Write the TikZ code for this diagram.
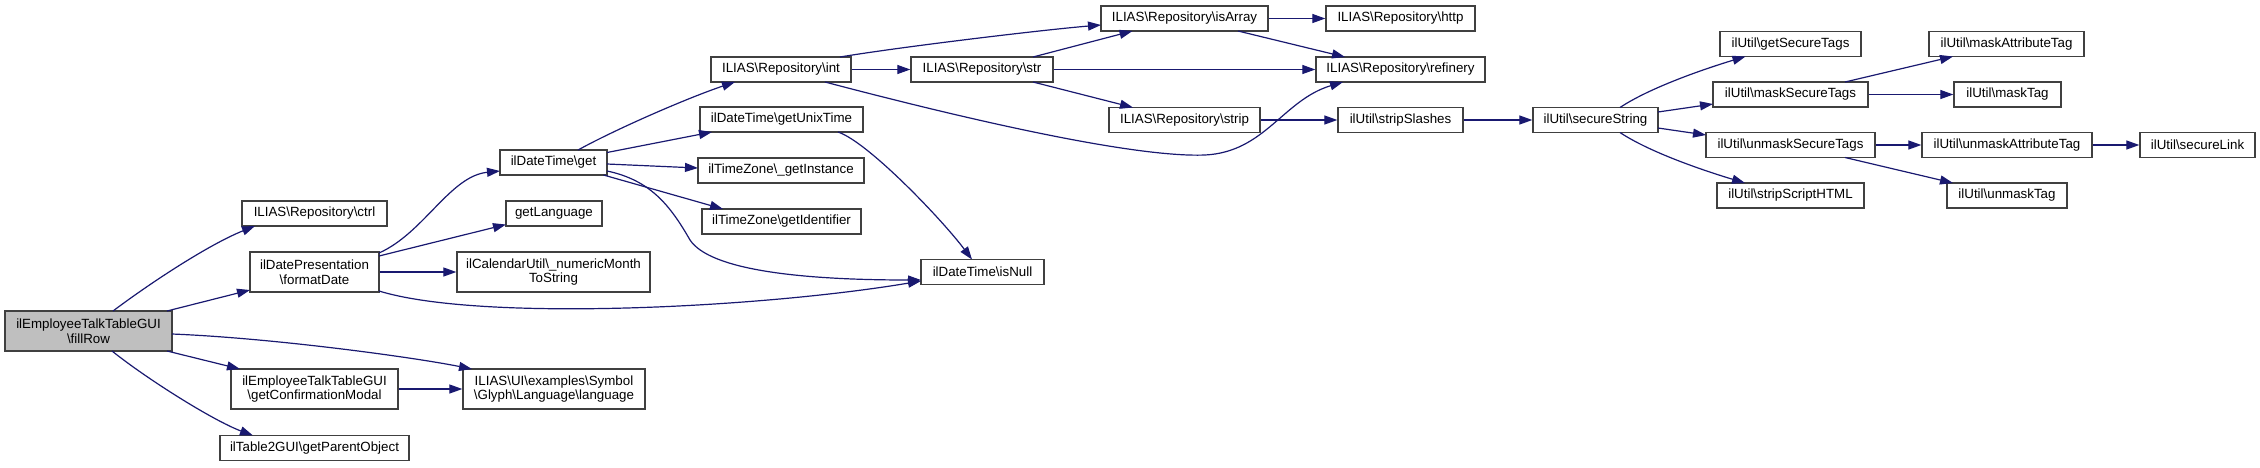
\documentclass[tikz,border=0pt]{standalone}
\usepackage{fontspec}
\setmainfont{Liberation Sans}
\usetikzlibrary{arrows.meta,calc}
\definecolor{edgec}{HTML}{191970}
\definecolor{boxc}{HTML}{404040}
\definecolor{fillc}{HTML}{BFBFBF}
\newcommand{\BSx}{\textbackslash}
\tikzset{
  box/.style={draw=boxc, line width=1.3pt, fill=white, inner sep=0pt, align=center,
    font=\fontsize{13.33}{14.5}\selectfont, text=black, minimum height=25pt},
  edge/.style={draw=edgec, line width=1.2pt, -{Triangle[length=13pt,width=9pt]}}
}
\begin{document}
\begin{tikzpicture}[x=1pt,y=-1pt]
\useasboundingbox (0,0) rectangle (2260,467);
% nodes
\node[box,fill=fillc,minimum width=167pt,minimum height=40pt] (fillRow) at (88.5,331) {ilEmployeeTalkTableGUI\\\BSx fillRow};
\node[box,minimum width=145pt] (ctrl) at (314.5,213.5) {ILIAS\BSx Repository\BSx ctrl};
\node[box,minimum width=129pt,minimum height=40pt] (fmt) at (314.5,272) {ilDatePresentation\\\BSx formatDate};
\node[box,minimum width=167pt,minimum height=40pt] (conf) at (314.5,389) {ilEmployeeTalkTableGUI\\\BSx getConfirmationModal};
\node[box,minimum width=189pt] (parent) at (314.5,448) {ilTable2GUI\BSx getParentObject};
\node[box,minimum width=107pt] (get) at (553.5,162.5) {ilDateTime\BSx get};
\node[box,minimum width=96pt] (lang) at (554,213.5) {getLanguage};
\node[box,minimum width=193pt,minimum height=40pt] (month) at (553.5,272) {ilCalendarUtil\BSx\_numericMonth\\ToString};
\node[box,minimum width=182pt,minimum height=40pt] (glyph) at (554,389) {ILIAS\BSx UI\BSx examples\BSx Symbol\\\BSx Glyph\BSx Language\BSx language};
\node[box,minimum width=140pt] (int) at (781,69.5) {ILIAS\BSx Repository\BSx int};
\node[box,minimum width=163pt] (unix) at (781.5,119.5) {ilDateTime\BSx getUnixTime};
\node[box,minimum width=166pt] (inst) at (781,170.5) {ilTimeZone\BSx\_getInstance};
\node[box,minimum width=159pt] (ident) at (781.5,221.5) {ilTimeZone\BSx getIdentifier};
\node[box,minimum width=123pt] (isnull) at (982.5,272) {ilDateTime\BSx isNull};
\node[box,minimum width=167pt] (isarr) at (1184.5,18.5) {ILIAS\BSx Repository\BSx isArray};
\node[box,minimum width=142pt] (str) at (982,69.5) {ILIAS\BSx Repository\BSx str};
\node[box,minimum width=151pt] (strip) at (1184.5,120) {ILIAS\BSx Repository\BSx strip};
\node[box,minimum width=149pt] (http) at (1400.5,18.5) {ILIAS\BSx Repository\BSx http};
\node[box,minimum width=169pt] (ref) at (1400.5,69.5) {ILIAS\BSx Repository\BSx refinery};
\node[box,minimum width=125pt] (slash) at (1400.5,120) {ilUtil\BSx stripSlashes};
\node[box,minimum width=125pt] (secs) at (1595.5,120) {ilUtil\BSx secureString};
\node[box,minimum width=141pt] (gst) at (1790.5,44) {ilUtil\BSx getSecureTags};
\node[box,minimum width=155pt] (mst) at (1790.5,94.5) {ilUtil\BSx maskSecureTags};
\node[box,minimum width=169pt] (umst) at (1790.5,145) {ilUtil\BSx unmaskSecureTags};
\node[box,minimum width=147pt] (ssh) at (1790.5,195.5) {ilUtil\BSx stripScriptHTML};
\node[box,minimum width=155pt] (mat) at (2006.5,44) {ilUtil\BSx maskAttributeTag};
\node[box,minimum width=107pt] (mtag) at (2007.5,94.5) {ilUtil\BSx maskTag};
\node[box,minimum width=170pt] (umat) at (2007,145) {ilUtil\BSx unmaskAttributeTag};
\node[box,minimum width=115pt] (slink) at (2197.5,145) {ilUtil\BSx secureLink};
\node[box,minimum width=120pt] (utag) at (2007,195.5) {ilUtil\BSx unmaskTag};
% edges
\draw[edge] ($(fillRow.center)+(24.5,-20)$) .. controls +(40,-30) and +(-45,18) .. ($(ctrl.center)+(-59.5,12.5)$);
\draw[edge] ($(fillRow.center)+(78.5,-20)$) -- ($(fmt.center)+(-64.5,18)$);
\draw[edge] ($(fillRow.center)+(83.5,3)$) .. controls +(100,4) and +(-60,-12) .. ($(glyph.center)+(-82,-20)$);
\draw[edge] ($(fillRow.center)+(78.5,20)$) -- ($(conf.center)+(-74.5,-20)$);
\draw[edge] ($(fillRow.center)+(23.5,20)$) .. controls +(35,28) and +(-40,-15) .. ($(parent.center)+(-61.5,-12.5)$);
\draw[edge] ($(fmt.center)+(64.5,-19)$) .. controls +(45,-20) and +(-50,5) .. ($(get.center)+(-53.5,8.5)$);
\draw[edge] ($(fmt.center)+(64.5,-16)$) -- ($(lang.center)+(-48,11)$);
\draw[edge] (fmt.east) -- (month.west);
\draw[edge] ($(fmt.center)+(64.5,19)$) .. controls +(101,31) and +(-161,27) .. ($(isnull.center)+(-61.5,9)$);
\draw[edge] (conf.east) -- (glyph.west);
\draw[edge] ($(get.center)+(24.5,-12.5)$) .. controls +(40,-22) and +(-45,15) .. ($(int.center)+(-46,12.5)$);
\draw[edge] ($(get.center)+(53.5,-10)$) -- ($(unix.center)+(-69.5,12.5)$);
\draw[edge] ($(get.center)+(53.5,1.5)$) -- ($(inst.center)+(-83,-2.5)$);
\draw[edge] ($(get.center)+(50,12.5)$) -- ($(ident.center)+(-58.5,-12.5)$);
\draw[edge] ($(get.center)+(53.5,8.5)$) .. controls +(43,9) and +(-20,-35) .. ($(get.center)+(136.5,77.5)$) .. controls +(20,30) and +(-121,0) .. ($(isnull.center)+(-61.5,8)$);
\draw[edge] ($(unix.center)+(56.5,12.5)$) .. controls +(30,10) and +(-30,-40) .. ($(isnull.center)+(-10.5,-12.5)$);
\draw[edge] ($(int.center)+(59,-12.5)$) .. controls +(60,-10) and +(-60,5) .. ($(isarr.center)+(-83.5,6.5)$);
\draw[edge] (int.east) -- (str.west);
\draw[edge] ($(int.center)+(44,12.5)$) .. controls +(125,33) and +(-75,3) .. ($(ref.center)+(-195.5,85.5)$) .. controls +(60,-3) and +(-60,18) .. ($(ref.center)+(-57.5,12.5)$);
\draw[edge] ($(str.center)+(51,-12.5)$) -- ($(isarr.center)+(-52,12.5)$);
\draw[edge] (str.east) -- (ref.west);
\draw[edge] ($(str.center)+(51,12.5)$) -- ($(strip.center)+(-51.5,-12.5)$);
\draw[edge] (isarr.east) -- (http.west);
\draw[edge] ($(isarr.center)+(53.5,12.5)$) -- ($(ref.center)+(-55.5,-12.5)$);
\draw[edge] (strip.east) -- (slash.west);
\draw[edge] (slash.east) -- (secs.west);
\draw[edge] ($(secs.center)+(24.5,-12.5)$) .. controls +(30,-20) and +(-40,12) .. ($(gst.center)+(-45,12.5)$);
\draw[edge] ($(secs.center)+(62.5,-8)$) -- ($(mst.center)+(-77.5,9.5)$);
\draw[edge] ($(secs.center)+(62.5,8)$) -- ($(umst.center)+(-84.5,-10)$);
\draw[edge] ($(secs.center)+(24.5,12.5)$) .. controls +(30,20) and +(-40,-12) .. ($(ssh.center)+(-45.5,-12.5)$);
\draw[edge] ($(mst.center)+(54.5,-12.5)$) -- ($(mat.center)+(-53.5,12.5)$);
\draw[edge] (mst.east) -- (mtag.west);
\draw[edge] (umst.east) -- (umat.west);
\draw[edge] ($(umst.center)+(54.5,12.5)$) -- ($(utag.center)+(-54,-12.5)$);
\draw[edge] (umat.east) -- (slink.west);
\end{tikzpicture}
\end{document}
